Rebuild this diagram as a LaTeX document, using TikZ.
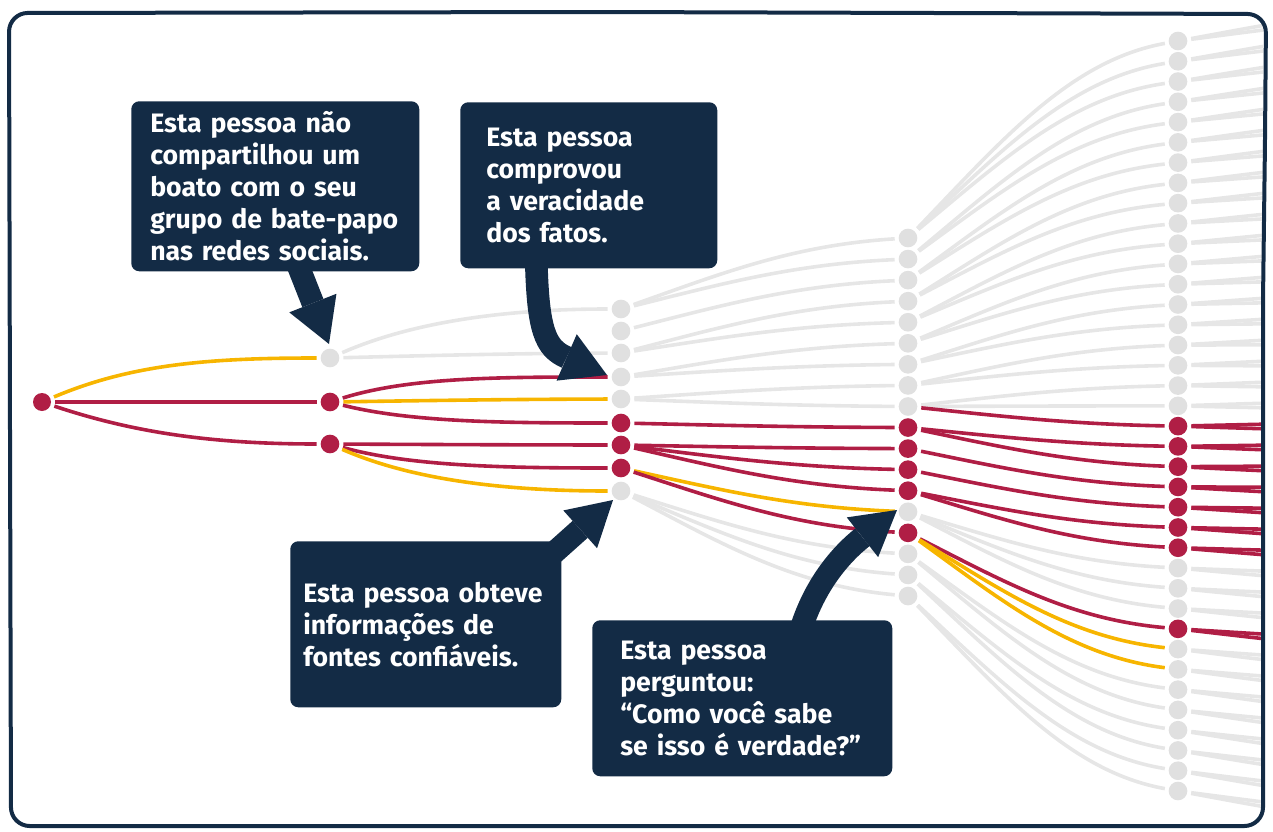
\documentclass[tikz,border=0pt]{standalone}
\usepackage{fontspec}
\setmainfont{Fira Sans}
\usetikzlibrary{arrows.meta}
\definecolor{navy}{HTML}{132B45}
\definecolor{crim}{HTML}{B01E45}
\definecolor{gold}{HTML}{F7B500}
\definecolor{dotgrey}{HTML}{E0E0E0}
\definecolor{linegrey}{HTML}{E6E6E6}
\newcommand\lnk[5]{\draw[#1] (#2) .. controls +({0.35*(#4)},{0.5*(#5)}) and +({-0.4*(#4)},{-0.1*(#5)}) .. (#3);}
\begin{document}
\begin{tikzpicture}[x=0.75pt,y=-0.75pt,
  gd/.style={circle,fill=dotgrey,minimum size=14pt,inner sep=0pt,outer sep=3pt},
  rd/.style={gd,fill=crim},
  gedge/.style={draw=linegrey,line width=2.7pt},
  redge/.style={draw=crim,line width=2.7pt},
  yedge/.style={draw=gold,line width=2.7pt},
  gd-out/.style={gedge},
  rd-out/.style={redge},
  callout/.style={fill=navy,rounded corners=6pt,text=white,font=\bfseries\fontsize{20}{24}\selectfont,align=left,anchor=north west,inner ysep=0pt},
  pointer/.style={draw=navy,line width=17pt,-{Triangle[length=33pt,width=38pt,line width=0pt]}},
  frame/.style={draw=navy,line width=3pt,rounded corners=14pt}
]
\useasboundingbox (0,0) rectangle (1273,831);
\begin{scope}
\clip (10,15) rectangle (1263,824);
% level 0 and 1
\node[rd,minimum size=13.5pt] (a0) at (42,402) {};
\node[gd] (b0) at (330,358) {};
\node[rd] (b1) at (330,402) {};
\node[rd] (b2) at (330,444) {};
% level 2
\foreach \y/\t [count=\i from 0] in {309/gd,331/gd,353/gd,377/gd,399/gd,423/rd,445/rd,468/rd,491/gd}
  \node[\t] (c\i) at (621,\y) {};
% level 3
\foreach \t [count=\i from 0] in {gd,gd,gd,gd,gd,gd,gd,gd,gd,rd,rd,rd,rd,gd,rd,gd,gd,gd}
  \node[\t] (d\i) at (908,{238+21.06*\i}) {};
% level 4
\foreach \t [count=\i from 0] in {gd,gd,gd,gd,gd,gd,gd,gd,gd,gd,gd,gd,gd,gd,gd,gd,gd,gd,gd,rd,rd,rd,rd,rd,rd,rd,gd,gd,gd,rd,gd,gd,gd,gd,gd,gd,gd,gd}
  \node[\t] (e\i) at (1178,{41+20.27*\i}) {};
% edges 0-1
\draw[yedge] (a0) .. controls +(90,-38) and +(-120,0) .. (b0);
\lnk{redge}{a0}{b1}{288}{0}
\draw[redge] (a0) .. controls +(90,30) and +(-120,0) .. (b2);
% edges 1-2
\draw[gedge] (b0) .. controls +(80,-35) and +(-120,0) .. (c0);
\lnk{gedge}{b0}{c2}{291}{-5}
\draw[redge] (b1) .. controls +(80,-25) and +(-120,0) .. (c3);
\lnk{yedge}{b1}{c4}{291}{-3}
\draw[redge] (b1) .. controls +(80,20) and +(-120,0) .. (c5);
\lnk{redge}{b2}{c6}{291}{1}
\draw[redge] (b2) .. controls +(80,22) and +(-120,0) .. (c7);
\draw[yedge] (b2) .. controls +(80,35) and +(-120,0) .. (c8);
% edges 2-3
\foreach \i/\yi/\j/\st in {0/309/0/gedge,0/309/1/gedge,1/331/2/gedge,2/353/3/gedge,2/353/4/gedge,3/377/5/gedge,3/377/6/gedge,4/399/7/gedge,4/399/8/gedge,8/491/15/gedge,8/491/16/gedge,8/491/17/gedge,5/423/9/redge,6/445/10/redge,6/445/11/redge,6/445/12/redge,7/468/13/yedge,7/468/14/redge}
  {\pgfmathsetmacro\dy{238+21.06*\j-\yi}\lnk{\st}{c\i}{d\j}{287}{\dy}}
% edges 3-4
\foreach \i/\j/\st in {0/0/gedge,0/1/gedge,0/2/gedge,1/3/gedge,1/4/gedge,2/5/gedge,2/6/gedge,3/7/gedge,3/8/gedge,4/9/gedge,4/10/gedge,5/11/gedge,5/12/gedge,6/13/gedge,6/14/gedge,7/15/gedge,7/16/gedge,8/17/gedge,8/18/gedge,13/26/gedge,13/27/gedge,13/28/gedge,15/32/gedge,15/33/gedge,16/34/gedge,16/35/gedge,17/36/gedge,17/37/gedge,8/19/redge,9/20/redge,9/21/redge,10/22/redge,11/23/redge,12/24/redge,12/25/redge,14/29/redge,14/30/yedge,14/31/yedge}
  {\pgfmathsetmacro\dy{41+20.27*\j-238-21.06*\i}\lnk{\st}{d\i}{e\j}{270}{\dy}}
% edges 4 -> beyond the frame
\foreach \t [count=\j from 0] in {gd,gd,gd,gd,gd,gd,gd,gd,gd,gd,gd,gd,gd,gd,gd,gd,gd,gd,gd,rd,rd,rd,rd,rd,rd,rd,gd,gd,gd,rd,gd,gd,gd,gd,gd,gd,gd,gd}
  {\foreach \k in {0,1}
    {\pgfmathsetmacro\yf{416+(2*\j+\k-37.5)*11}
     \coordinate (f\j-\k) at (1470,\yf);
     \pgfmathsetmacro\dy{\yf-41-20.27*\j}
     \lnk{\t-out}{e\j}{f\j-\k}{292}{\dy}}}
\end{scope}
% callouts
\node[callout,inner xsep=14.25pt,text width=187.5pt,minimum height=127.5pt] (boxA) at (131,101)
  {Esta pessoa não\\compartilhou um\\boato com o seu\\grupo de bate-papo\\nas redes sociais.};
\node[callout,inner xsep=19.5pt,text width=153.75pt,minimum height=124.5pt] (boxB) at (460,102)
  {Esta pessoa\\comprovou\\a veracidade\\dos fatos.};
\node[callout,inner xsep=9.75pt,text width=183.75pt,minimum height=124.5pt] (boxC) at (290,541)
  {Esta pessoa obteve\\informações de\\fontes confiáveis.};
\node[callout,inner xsep=21pt,text width=183pt,minimum height=117pt] (boxD) at (592,620)
  {Esta pessoa\\perguntou:\\“Como você sabe\\se isso é verdade?”};
\coordinate (tA) at (329,344);
\coordinate (tB) at (607,375);
\coordinate (tC) at (613,500);
\coordinate (tD) at (897,510);
\draw[pointer] ([xshift=16.5pt,yshift=6pt]boxA.south) -- (tA);
\draw[pointer] ([xshift=-39.4pt,yshift=6pt]boxB.south) .. controls (538,330) and (545,348) .. (tB);
\draw[pointer] ([xshift=-7pt,yshift=-10pt]boxC.north east) -- (tC);
\draw[pointer] ([xshift=44.25pt,yshift=-6pt]boxD.north) .. controls (815,585) and (840,555) .. (tD);
% frame
\draw[frame] (10,430) -- (9,13) -- (600,12) -- (1266,14) -- (1265,140) -- (1263,300) -- (1263,826) -- (11,826) -- cycle;
\end{tikzpicture}
\end{document}
